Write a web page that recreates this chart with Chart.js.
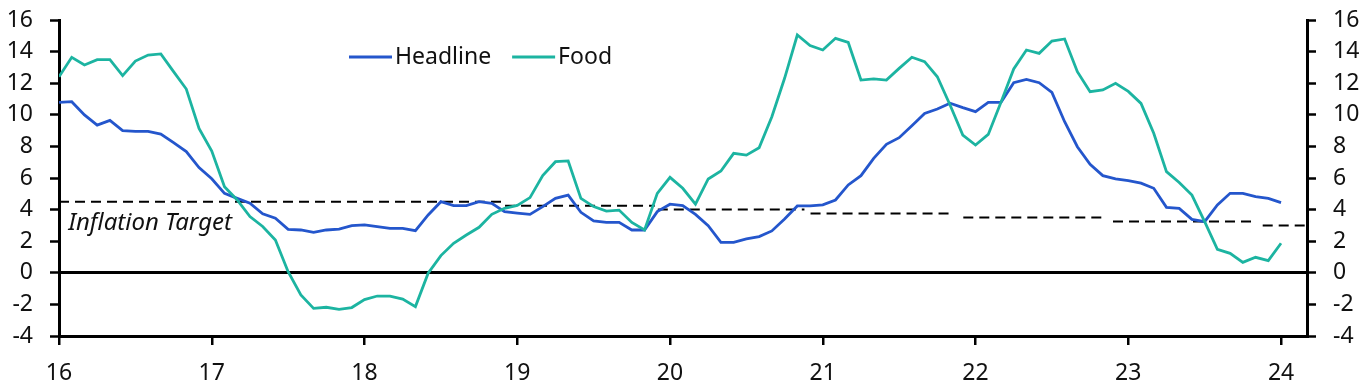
<!DOCTYPE html>
<html>
<head>
<meta charset="utf-8">
<title>Headline and food inflation</title>
<script src="https://cdn.jsdelivr.net/npm/chart.js@4.4.1/dist/chart.umd.min.js"></script>
<style>
  html, body { margin: 0; padding: 0; background: #fff; }
  #wrap { width: 1364px; height: 392px; }
</style>
</head>
<body>
<div id="wrap"><canvas id="chart" width="1364" height="392"></canvas></div>
<script>
// monthly series, first point = Jan 2016 (x = 16)
const startYear = 16;

const headline = [
  10.79, 10.83, 9.99, 9.35, 9.65, 9.0, 8.95, 8.95, 8.78, 8.24, 7.67, 6.66, 5.95,
  5.03, 4.71, 4.4, 3.73, 3.45, 2.75, 2.71, 2.56, 2.71, 2.77, 2.98, 3.03,
  2.92, 2.81, 2.81, 2.67, 3.66, 4.5, 4.25, 4.25, 4.5, 4.4, 3.87, 3.78,
  3.7, 4.19, 4.71, 4.92, 3.83, 3.28, 3.19, 3.19, 2.71, 2.71, 3.87, 4.34,
  4.25, 3.7, 2.98, 1.93, 1.93, 2.14, 2.29, 2.65, 3.4, 4.23, 4.23, 4.3,
  4.61, 5.56, 6.15, 7.24, 8.13, 8.55, 9.31, 10.09, 10.37, 10.73, 10.45, 10.2,
  10.79, 10.79, 12.03, 12.24, 12.03, 11.42, 9.56, 7.98, 6.87, 6.15, 5.94, 5.84,
  5.67, 5.35, 4.14, 4.08, 3.38, 3.24, 4.29, 5.03, 5.03, 4.82, 4.71, 4.44
];

const food = [
  12.41, 13.64, 13.15, 13.49, 13.49, 12.48, 13.4, 13.78, 13.85, 12.73, 11.63, 9.14, 7.7,
  5.45, 4.61, 3.56, 2.93, 2.08, 0.07, -1.4, -2.25, -2.18, -2.31, -2.2, -1.7,
  -1.47, -1.47, -1.66, -2.14, -0.03, 1.09, 1.87, 2.39, 2.88, 3.7, 4.08, 4.27,
  4.76, 6.15, 7.03, 7.08, 4.71, 4.19, 3.91, 3.97, 3.19, 2.71, 5.03, 6.04,
  5.35, 4.34, 5.94, 6.44, 7.56, 7.45, 7.92, 9.88, 12.31, 15.05, 14.38, 14.1,
  14.84, 14.58, 12.2, 12.27, 12.2, 12.94, 13.64, 13.36, 12.41, 10.62, 8.72, 8.09,
  8.76, 10.79, 12.9, 14.1, 13.89, 14.67, 14.8, 12.73, 11.46, 11.57, 11.99, 11.48,
  10.72, 8.83, 6.4, 5.72, 4.92, 3.24, 1.49, 1.23, 0.66, 0.98, 0.77, 1.87
];

// inflation target, one level per period (no connectors between levels)
const targetLevels = [4.5, 4.25, 4.0, 3.75, 3.5, 3.25, 3.0];
const targetStart = [16, 18.92, 19.92, 20.92, 21.92, 22.9, 23.88];
const targetEnd = [18.91, 19.9, 20.88, 21.86, 22.84, 23.84, 24.17];
const targetLabel = "Inflation Target";
const targetLabelPos = [16.06, 2.71];

const xTicks = [16, 17, 18, 19, 20, 21, 22, 23, 24];
const yTicks = [-4, -2, 0, 2, 4, 6, 8, 10, 12, 14, 16];

const BLUE = "#2456cc";
const TEAL = "#1cb4a1";
const FONT = "'Noto Sans', 'Open Sans', sans-serif";

const toPoints = (arr) => arr.map((v, i) => ({ x: startYear + i / 12, y: v }));

const targetData = [];
targetLevels.forEach((lvl, k) => {
  targetData.push({ x: targetStart[k], y: lvl }, { x: targetEnd[k], y: lvl }, { x: targetEnd[k], y: null });
});

// legend + the target label, drawn on top of the lines
const overlayPlugin = {
  id: "overlay",
  afterDatasetsDraw(chart) {
    const { ctx, chartArea, scales } = chart;
    ctx.save();
    ctx.fillStyle = "#111";

    ctx.font = "italic 24px " + FONT;
    ctx.textBaseline = "alphabetic";
    ctx.textAlign = "left";
    ctx.fillText(targetLabel,
      scales.x.getPixelForValue(targetLabelPos[0]),
      scales.y.getPixelForValue(targetLabelPos[1]));

    let x = chartArea.left + 290;
    const y = chartArea.top + 37;
    ctx.font = "23px " + FONT;
    ctx.textBaseline = "middle";
    chart.data.datasets.forEach((ds) => {
      if (!ds.inLegend) return;
      ctx.strokeStyle = ds.borderColor;
      ctx.lineWidth = 3;
      ctx.beginPath();
      ctx.moveTo(x, y);
      ctx.lineTo(x + 43, y);
      ctx.stroke();
      ctx.fillStyle = "#111";
      ctx.fillText(ds.label, x + 46, y);
      x += 46 + ctx.measureText(ds.label).width + 21;
    });
    ctx.restore();
  }
};

const yAxis = (position, width) => ({
  type: "linear",
  position,
  min: -4,
  max: 16,
  afterBuildTicks: (scale) => { scale.ticks = yTicks.map((v) => ({ value: v })); },
  afterFit: (scale) => {
    scale.width = width;
    // labels may overhang the plot edges; don't let them push the plot down
    scale.paddingTop = 0;
    scale.paddingBottom = 0;
  },
  border: { display: true, color: "#000", width: 3 },
  grid: {
    drawOnChartArea: position === "left",
    color: (c) => (c.tick && c.tick.value === 0 ? "#000" : "rgba(0,0,0,0)"),
    lineWidth: 3,
    tickColor: "#000",
    tickWidth: 2.5,
    tickLength: 9,
  },
  ticks: {
    color: "#111",
    padding: 17,
    autoSkip: false,
    font: { family: FONT, size: 23 },
  },
});

new Chart(document.getElementById("chart"), {
  type: "line",
  data: {
    datasets: [
      {
        label: "Headline",
        inLegend: true,
        data: toPoints(headline),
        borderColor: BLUE,
        borderWidth: 2.8,
        pointRadius: 0,
        order: 1,
      },
      {
        label: "Food",
        inLegend: true,
        data: toPoints(food),
        borderColor: TEAL,
        borderWidth: 2.8,
        pointRadius: 0,
        order: 0,
      },
      {
        label: targetLabel,
        data: targetData,
        borderColor: "#000",
        borderWidth: 2,
        borderDash: [10, 6],
        pointRadius: 0,
        spanGaps: false,
        order: 2,
      },
    ],
  },
  options: {
    responsive: false,
    animation: false,
    layout: { padding: { top: 20, left: 0, right: 0, bottom: 0 } },
    plugins: {
      legend: { display: false },
      tooltip: { enabled: false },
    },
    scales: {
      x: {
        type: "linear",
        min: 16,
        max: 24.17,
        afterBuildTicks: (scale) => { scale.ticks = xTicks.map((v) => ({ value: v })); },
        afterFit: (scale) => { scale.height = 56; },
        border: { display: true, color: "#000", width: 3 },
        grid: {
          drawOnChartArea: false,
          color: "#000",
          lineWidth: 2.5,
          tickLength: 9,
        },
        ticks: {
          color: "#111",
          padding: 15,
          maxRotation: 0,
          autoSkip: false,
          font: { family: FONT, size: 23 },
        },
      },
      y: yAxis("left", 59),
      y2: yAxis("right", 57),
    },
  },
  plugins: [overlayPlugin],
});
</script>
</body>
</html>
